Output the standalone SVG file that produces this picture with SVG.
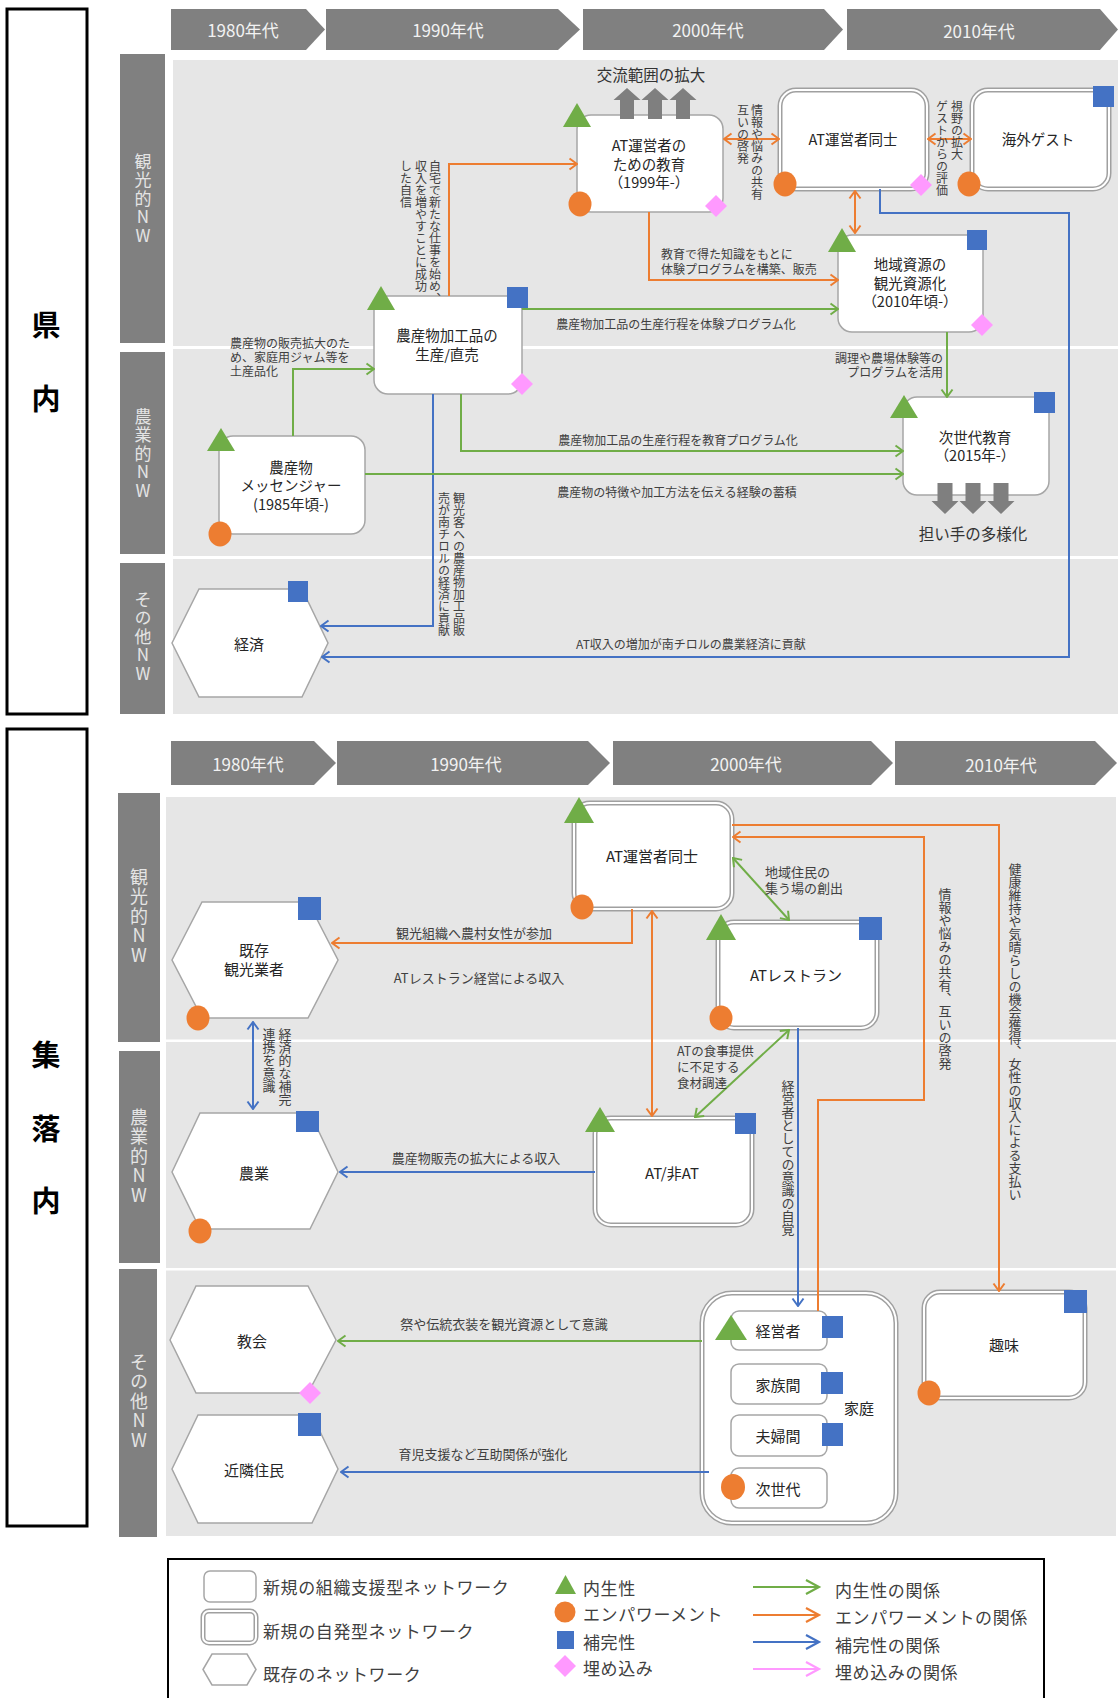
<svg xmlns="http://www.w3.org/2000/svg" width="1118" height="1698" viewBox="0 0 1118 1698">
<defs>
<style>
text{font-family:"Noto Sans CJK JP","Noto Sans",sans-serif}
.side{stroke:#000;stroke-width:3;fill:#fff}
.sidet{font-size:29px;font-weight:bold;fill:#000;text-anchor:middle;dominant-baseline:central}
.chev{fill:#808080}
.chevt{font-size:17px;fill:#f2f2f2;text-anchor:middle;dominant-baseline:central}
.panel{fill:#e6e6e6}
.sep{fill:#fff}
.bar{fill:#808080}
.bart{font-size:17px;fill:#e4e4e4;writing-mode:vertical-rl;text-orientation:upright;letter-spacing:1.5px}
.bart2{font-size:18px;letter-spacing:1.5px}
.box{fill:#fff;stroke:#a6a6a6;stroke-width:1.5}
.dbo{fill:#fff;stroke:#a0a0a0;stroke-width:5}
.dbi{fill:none;stroke:#fff;stroke-width:2}
.hex{fill:#fff;stroke:#a6a6a6;stroke-width:1.5}
.nt{font-size:14.5px;fill:#262626;text-anchor:middle;dominant-baseline:central}
.nb{font-size:15px}
.tri{fill:#70ad47}
.cir{fill:#ed7d31}
.sq{fill:#4472c4}
.dia{fill:#ff99ff}
.ga{fill:#7f7f7f}
.cn path{fill:none;stroke-width:2}
.g{stroke:#70ad47}
.o{stroke:#ed7d31}
.b{stroke:#4472c4}
.l{font-size:12px;fill:#404040;dominant-baseline:central}
.l13{font-size:13px}
.l125{font-size:12.5px}
.lm{text-anchor:middle}
.le{text-anchor:end}
.v{writing-mode:vertical-rl}
.big{font-size:15.5px;fill:#333;text-anchor:middle;dominant-baseline:central}
.lg{font-size:17px;fill:#404040;dominant-baseline:central;letter-spacing:0.6px}
</style>
<marker id="mg" viewBox="0 0 10 14" refX="9" refY="7" markerWidth="10" markerHeight="14" markerUnits="userSpaceOnUse" orient="auto-start-reverse"><path d="M1.5,1.5 L9,7 L1.5,12.5" fill="none" stroke="#70ad47" stroke-width="2"/></marker>
<marker id="mo" viewBox="0 0 10 14" refX="9" refY="7" markerWidth="10" markerHeight="14" markerUnits="userSpaceOnUse" orient="auto-start-reverse"><path d="M1.5,1.5 L9,7 L1.5,12.5" fill="none" stroke="#ed7d31" stroke-width="2"/></marker>
<marker id="mb" viewBox="0 0 10 14" refX="9" refY="7" markerWidth="10" markerHeight="14" markerUnits="userSpaceOnUse" orient="auto-start-reverse"><path d="M1.5,1.5 L9,7 L1.5,12.5" fill="none" stroke="#4472c4" stroke-width="2"/></marker>
</defs>

<!-- frame / background -->
<rect width="1118" height="1698" fill="#fff"/>
<rect class="side" x="7" y="9" width="80" height="705"/>
<text class="sidet" x="46" y="323">県</text>
<text class="sidet" x="46" y="397">内</text>
<rect class="side" x="7" y="729" width="80" height="797"/>
<text class="sidet" x="46" y="1053">集</text>
<text class="sidet" x="46" y="1127">落</text>
<text class="sidet" x="46" y="1199">内</text>

<!-- timelines -->
<polygon class="chev" points="171,9 306,9 325,29.5 306,50 171,50"/>
<polygon class="chev" points="326,9 558,9 580,29.5 558,50 326,50"/>
<polygon class="chev" points="583,9 824,9 843,29.5 824,50 583,50"/>
<polygon class="chev" points="847,9 1100,9 1118,29.5 1100,50 847,50"/>
<text class="chevt" x="243" y="29">1980年代</text>
<text class="chevt" x="448" y="29">1990年代</text>
<text class="chevt" x="708" y="29">2000年代</text>
<text class="chevt" x="979" y="30">2010年代</text>

<polygon class="chev" points="171,741 314,741 336,763 314,785 171,785"/>
<polygon class="chev" points="337,741 588,741 610,763 588,785 337,785"/>
<polygon class="chev" points="613,741 871,741 893,763 871,785 613,785"/>
<polygon class="chev" points="895,741 1095,741 1117,763 1095,785 895,785"/>
<text class="chevt" x="248" y="763">1980年代</text>
<text class="chevt" x="466" y="763">1990年代</text>
<text class="chevt" x="746" y="763">2000年代</text>
<text class="chevt" x="1001" y="764">2010年代</text>

<!-- panels -->
<rect class="panel" x="173" y="60" width="945" height="654"/>
<rect class="sep" x="173" y="346" width="945" height="3"/>
<rect class="sep" x="173" y="556" width="945" height="3"/>
<rect class="bar" x="120" y="54" width="45" height="289"/>
<rect class="bar" x="120" y="352" width="45" height="202"/>
<rect class="bar" x="120" y="563" width="45" height="151"/>
<text class="bart" x="143" y="153">観光的NW</text>
<text class="bart" x="143" y="408">農業的NW</text>
<text class="bart" x="143" y="591">その他NW</text>

<rect class="panel" x="166" y="797" width="950" height="739"/>
<rect class="sep" x="166" y="1039.5" width="950" height="2.5"/>
<rect class="sep" x="166" y="1268" width="950" height="2.5"/>
<rect class="bar" x="118" y="793" width="42" height="249"/>
<rect class="bar" x="119" y="1051" width="41" height="212"/>
<rect class="bar" x="119" y="1269" width="38" height="268"/>
<text class="bart bart2" x="139" y="868">観光的NW</text>
<text class="bart bart2" x="139" y="1108">農業的NW</text>
<text class="bart bart2" x="139" y="1353">その他NW</text>

<!-- ===== top nodes ===== -->
<g id="n-kyoiku">
<rect class="box" x="577" y="115" width="146" height="97" rx="14"/>
<text class="nt" x="649" y="144">AT運営者の</text>
<text class="nt" x="649" y="163">ための教育</text>
<text class="nt" x="649" y="181">（1999年-）</text>
<polygon class="tri" points="577,103 591,127 563,127"/>
<ellipse class="cir" cx="580" cy="204" rx="11.5" ry="12.5"/>
<polygon class="dia" points="716,195 727,206 716,217 705,206"/>
<polygon class="ga" points="627,88 640.5,100 634,100 634,119 620,119 620,100 613.5,100"/>
<polygon class="ga" points="655,88 668.5,100 662,100 662,119 648,119 648,100 641.5,100"/>
<polygon class="ga" points="683,88 696.5,100 690,100 690,119 676,119 676,100 669.5,100"/>
<text class="big" x="651" y="74">交流範囲の拡大</text>
</g>

<g id="n-at-top">
<rect class="dbo" x="780" y="90" width="147" height="99" rx="16"/>
<rect class="dbi" x="780" y="90" width="147" height="99" rx="16"/>
<text class="nt" x="853" y="138">AT運営者同士</text>
<ellipse class="cir" cx="785" cy="184" rx="11.5" ry="12.5"/>
<polygon class="dia" points="921,174 932,185 921,196 910,185"/>
</g>

<g id="n-guest">
<rect class="dbo" x="972" y="90" width="137" height="99" rx="16"/>
<rect class="dbi" x="972" y="90" width="137" height="99" rx="16"/>
<text class="nt" x="1038" y="138">海外ゲスト</text>
<rect class="sq" x="1093" y="86" width="21" height="21"/>
<ellipse class="cir" cx="969" cy="184" rx="11.5" ry="12.5"/>
</g>

<g id="n-chiiki">
<rect class="box" x="838" y="235" width="145" height="97" rx="14"/>
<text class="nt" x="910" y="263">地域資源の</text>
<text class="nt" x="910" y="282">観光資源化</text>
<text class="nt" x="910" y="300">（2010年頃-）</text>
<polygon class="tri" points="842,228 856,252 828,252"/>
<rect class="sq" x="967" y="230" width="20" height="20"/>
<polygon class="dia" points="982,314 993,325 982,336 971,325"/>
</g>

<g id="n-kakou">
<rect class="box" x="374" y="296" width="148" height="98" rx="14"/>
<text class="nt" x="447" y="334">農産物加工品の</text>
<text class="nt" x="447" y="353">生産/直売</text>
<polygon class="tri" points="381,286 395,310 367,310"/>
<rect class="sq" x="507" y="287" width="21" height="21"/>
<polygon class="dia" points="522,373 533,384 522,395 511,384"/>
</g>

<g id="n-messenger">
<rect class="box" x="219" y="436" width="146" height="98" rx="14"/>
<text class="nt" x="291" y="466">農産物</text>
<text class="nt" x="291" y="484">メッセンジャー</text>
<text class="nt" x="291" y="503">(1985年頃-)</text>
<polygon class="tri" points="221,428 235,451 207,451"/>
<ellipse class="cir" cx="220" cy="534" rx="11.5" ry="12.5"/>
</g>

<g id="n-jisedai-kyoiku">
<rect class="box" x="903" y="397" width="146" height="98" rx="14"/>
<text class="nt" x="975" y="436">次世代教育</text>
<text class="nt" x="975" y="454">（2015年-）</text>
<polygon class="tri" points="904,395 918,418 890,418"/>
<rect class="sq" x="1034" y="392" width="21" height="21"/>
<polygon class="ga" points="937.5,483 952.5,483 952.5,501 958.5,501 945,514 931.5,501 937.5,501"/>
<polygon class="ga" points="965.5,483 980.5,483 980.5,501 986.5,501 973,514 959.5,501 965.5,501"/>
<polygon class="ga" points="993.5,483 1008.5,483 1008.5,501 1014.5,501 1001,514 987.5,501 993.5,501"/>
<text class="big" x="973" y="533">担い手の多様化</text>
</g>

<g id="n-keizai">
<polygon class="hex" points="172,643 199,589 302,589 328,643 302,697 199,697"/>
<text class="nt nb" x="249" y="643">経済</text>
<rect class="sq" x="288" y="581" width="20" height="21"/>
</g>

<!-- ===== bottom nodes ===== -->
<g id="n-at-bottom">
<rect class="dbo" x="574" y="803" width="158" height="106" rx="16"/>
<rect class="dbi" x="574" y="803" width="158" height="106" rx="16"/>
<text class="nt nb" x="652" y="855">AT運営者同士</text>
<polygon class="tri" points="579,797 594,823 564,823"/>
<ellipse class="cir" cx="582" cy="907" rx="11.5" ry="12.5"/>
</g>

<g id="n-restaurant">
<rect class="dbo" x="718" y="922" width="159" height="106" rx="16"/>
<rect class="dbi" x="718" y="922" width="159" height="106" rx="16"/>
<text class="nt nb" x="796" y="974">ATレストラン</text>
<polygon class="tri" points="721,914 736,940 706,940"/>
<rect class="sq" x="859" y="917" width="23" height="23"/>
<ellipse class="cir" cx="721" cy="1018" rx="11.5" ry="12.5"/>
</g>

<g id="n-at-nonat">
<rect class="dbo" x="595" y="1118" width="157" height="107" rx="16"/>
<rect class="dbi" x="595" y="1118" width="157" height="107" rx="16"/>
<text class="nt nb" x="672" y="1172">AT/非AT</text>
<polygon class="tri" points="600,1107 615,1132 585,1132"/>
<rect class="sq" x="735" y="1113" width="21" height="21"/>
</g>

<g id="n-kizon">
<polygon class="hex" points="172,960 202,902 308,902 338,960 308,1018 202,1018"/>
<text class="nt nb" x="254" y="949">既存</text>
<text class="nt nb" x="254" y="968">観光業者</text>
<rect class="sq" x="298" y="897" width="23" height="23"/>
<ellipse class="cir" cx="198" cy="1018" rx="11.5" ry="12.5"/>
</g>

<g id="n-nogyo">
<polygon class="hex" points="172,1172 200,1113 310,1113 338,1172 310,1229 200,1229"/>
<text class="nt nb" x="254" y="1172">農業</text>
<rect class="sq" x="296" y="1111" width="23" height="21"/>
<ellipse class="cir" cx="200" cy="1231" rx="11.5" ry="12.5"/>
</g>

<g id="n-kyokai">
<polygon class="hex" points="170,1340 196,1286 308,1286 336,1340 308,1393 196,1393"/>
<text class="nt nb" x="252" y="1340">教会</text>
<polygon class="dia" points="310,1382 321,1393 310,1404 299,1393"/>
</g>

<g id="n-kinrin">
<polygon class="hex" points="172,1469 198,1415 312,1415 338,1469 312,1523 198,1523"/>
<text class="nt nb" x="254" y="1469">近隣住民</text>
<rect class="sq" x="298" y="1413" width="23" height="23"/>
</g>

<g id="n-katei">
<rect class="dbo" x="702" y="1293" width="194" height="230" rx="30"/>
<rect class="dbi" x="702" y="1293" width="194" height="230" rx="30"/>
<text class="nt nb" x="859" y="1407">家庭</text>
<rect class="box" x="731" y="1311" width="96" height="39" rx="8"/>
<text class="nt nb" x="778" y="1330">経営者</text>
<polygon class="tri" points="731,1315 747,1340 715,1340"/>
<rect class="sq" x="822" y="1316" width="21" height="22"/>
<rect class="box" x="731" y="1364" width="96" height="40" rx="8"/>
<text class="nt nb" x="778" y="1384">家族間</text>
<rect class="sq" x="821" y="1372" width="22" height="22"/>
<rect class="box" x="731" y="1415" width="96" height="41" rx="8"/>
<text class="nt nb" x="778" y="1435">夫婦間</text>
<rect class="sq" x="822" y="1423" width="21" height="23"/>
<rect class="box" x="731" y="1468" width="96" height="40" rx="8"/>
<text class="nt nb" x="778" y="1488">次世代</text>
<ellipse class="cir" cx="733" cy="1487" rx="12" ry="13"/>
</g>

<g id="n-shumi">
<rect class="dbo" x="924" y="1292" width="161" height="106" rx="16"/>
<rect class="dbi" x="924" y="1292" width="161" height="106" rx="16"/>
<text class="nt nb" x="1004" y="1344">趣味</text>
<rect class="sq" x="1064" y="1290" width="23" height="23"/>
<ellipse class="cir" cx="929" cy="1393" rx="11.5" ry="12.5"/>
</g>

<!-- ===== connectors ===== -->
<g id="connectors" class="cn">
<path class="o" d="M449,296 V164 H577" marker-end="url(#mo)"/>
<path class="o" d="M649,212 V280 H838" marker-end="url(#mo)"/>
<path class="o" d="M724,139 H779" marker-start="url(#mo)" marker-end="url(#mo)"/>
<path class="o" d="M928,139 H971" marker-start="url(#mo)" marker-end="url(#mo)"/>
<path class="o" d="M855,191 V233" marker-start="url(#mo)" marker-end="url(#mo)"/>
<path class="b" d="M880,189 V213 H1069 V657 H322" marker-end="url(#mb)"/>
<path class="b" d="M433,394 V626 H321" marker-end="url(#mb)"/>
<path class="g" d="M522,309 H838" marker-end="url(#mg)"/>
<path class="g" d="M461,394 V451 H903" marker-end="url(#mg)"/>
<path class="g" d="M365,474 H903" marker-end="url(#mg)"/>
<path class="g" d="M293,436 V369 H374" marker-end="url(#mg)"/>
<path class="g" d="M947,332 V397" marker-end="url(#mg)"/>

<path class="o" d="M632,909 V943 H332" marker-end="url(#mo)"/>
<path class="o" d="M652,911 V1116" marker-start="url(#mo)" marker-end="url(#mo)"/>
<path class="o" d="M732,825 H999 V1291" marker-end="url(#mo)"/>
<path class="o" d="M818,1311 V1100 H924 V837 H733" marker-end="url(#mo)"/>
<path class="g" d="M733,858 L789,920" marker-start="url(#mg)" marker-end="url(#mg)"/>
<path class="g" d="M789,1030 L695,1117" marker-start="url(#mg)" marker-end="url(#mg)"/>
<path class="b" d="M798,1028 V1306" marker-end="url(#mb)"/>
<path class="b" d="M253,1022 V1109" marker-start="url(#mb)" marker-end="url(#mb)"/>
<path class="b" d="M595,1172 H340" marker-end="url(#mb)"/>
<path class="g" d="M702,1341 H338" marker-end="url(#mg)"/>
<path class="b" d="M709,1472 H341" marker-end="url(#mb)"/>

<!-- labels -->
<text class="l v" x="435" y="160">自宅で新たな仕事を始め、</text>
<text class="l v" x="421" y="160">収入を増やすことに成功</text>
<text class="l v" x="406" y="160">した自信</text>
<text class="l v" x="757" y="104">情報や悩みの共有</text>
<text class="l v" x="743" y="104">互いの啓発</text>
<text class="l v" x="957" y="100">視野の拡大</text>
<text class="l v" x="942" y="100">ゲストからの評価</text>
<text class="l" x="661" y="253">教育で得た知識をもとに</text>
<text class="l" x="661" y="268">体験プログラムを構築、販売</text>
<text class="l lm" x="676" y="323">農産物加工品の生産行程を体験プログラム化</text>
<text class="l le" x="943" y="357">調理や農場体験等の</text>
<text class="l le" x="943" y="371">プログラムを活用</text>
<text class="l" x="230" y="342">農産物の販売拡大のた</text>
<text class="l" x="230" y="356">め、家庭用ジャム等を</text>
<text class="l" x="230" y="370">土産品化</text>
<text class="l lm" x="678" y="439">農産物加工品の生産行程を教育プログラム化</text>
<text class="l lm" x="677" y="491">農産物の特徴や加工方法を伝える経験の蓄積</text>
<text class="l v" x="459" y="492">観光客への農産物加工品販</text>
<text class="l v" x="444" y="492">売が南チロルの経済に貢献</text>
<text class="l lm" x="691" y="643">AT収入の増加が南チロルの農業経済に貢献</text>

<text class="l l13 lm" x="474" y="932">観光組織へ農村女性が参加</text>
<text class="l l13 lm" x="479" y="977">ATレストラン経営による収入</text>
<text class="l l13" x="765" y="871">地域住民の</text>
<text class="l l13" x="765" y="887">集う場の創出</text>
<text class="l l13 v" x="945" y="888">情報や悩みの共有、互いの啓発</text>
<text class="l l13 v" x="1015" y="863">健康維持や気晴らしの機会獲得、女性の収入による支払い</text>
<text class="l l13 v" x="285" y="1028">経済的な補完</text>
<text class="l l13 v" x="269" y="1028">連携を意識</text>
<text class="l l125" x="677" y="1050">ATの食事提供</text>
<text class="l l125" x="677" y="1066">に不足する</text>
<text class="l l125" x="677" y="1082">食材調達</text>
<text class="l l13 v" x="788" y="1080">経営者としての意識の自覚</text>
<text class="l l13 lm" x="476" y="1157">農産物販売の拡大による収入</text>
<text class="l l13 lm" x="504" y="1323">祭や伝統衣装を観光資源として意識</text>
<text class="l l13 lm" x="483" y="1453">育児支援など互助関係が強化</text>
</g>

<!-- ===== legend ===== -->
<g id="legend">
<rect x="168" y="1559" width="876" height="150" fill="#fff" stroke="#000" stroke-width="2"/>
<rect class="box" x="204" y="1571" width="52" height="31" rx="6" stroke="#808080"/>
<rect class="dbo" x="203" y="1611" width="53" height="32" rx="6" stroke="#909090" stroke-width="4.5"/>
<rect class="dbi" x="203" y="1611" width="53" height="32" rx="6" stroke-width="1.5"/>
<polygon class="hex" points="203,1669.5 212,1654 247,1654 256,1669.5 247,1685 212,1685" stroke="#808080"/>
<text class="lg" x="263" y="1586">新規の組織支援型ネットワーク</text>
<text class="lg" x="263" y="1630">新規の自発型ネットワーク</text>
<text class="lg" x="263" y="1673">既存のネットワーク</text>
<polygon class="tri" points="565.5,1575 576,1594 555,1594"/>
<circle class="cir" cx="565" cy="1612" r="10.5"/>
<rect class="sq" x="557" y="1631" width="17" height="18"/>
<polygon class="dia" points="565,1655 576,1666 565,1677 554,1666"/>
<text class="lg" x="583" y="1587">内生性</text>
<text class="lg" x="583" y="1613">エンパワーメント</text>
<text class="lg" x="583" y="1641">補完性</text>
<text class="lg" x="583" y="1667">埋め込み</text>
<g fill="none" stroke-width="2.2">
<path d="M753,1587 H819 M806,1580 L819,1587 L806,1594" stroke="#70ad47"/>
<path d="M753,1615 H819 M806,1608 L819,1615 L806,1622" stroke="#ed7d31"/>
<path d="M753,1642 H819 M806,1635 L819,1642 L806,1649" stroke="#4472c4"/>
<path d="M753,1669 H819 M806,1662 L819,1669 L806,1676" stroke="#ff99ff"/>
</g>
<text class="lg" x="835" y="1589">内生性の関係</text>
<text class="lg" x="835" y="1616">エンパワーメントの関係</text>
<text class="lg" x="835" y="1644">補完性の関係</text>
<text class="lg" x="835" y="1671">埋め込みの関係</text>
</g>
</svg>
